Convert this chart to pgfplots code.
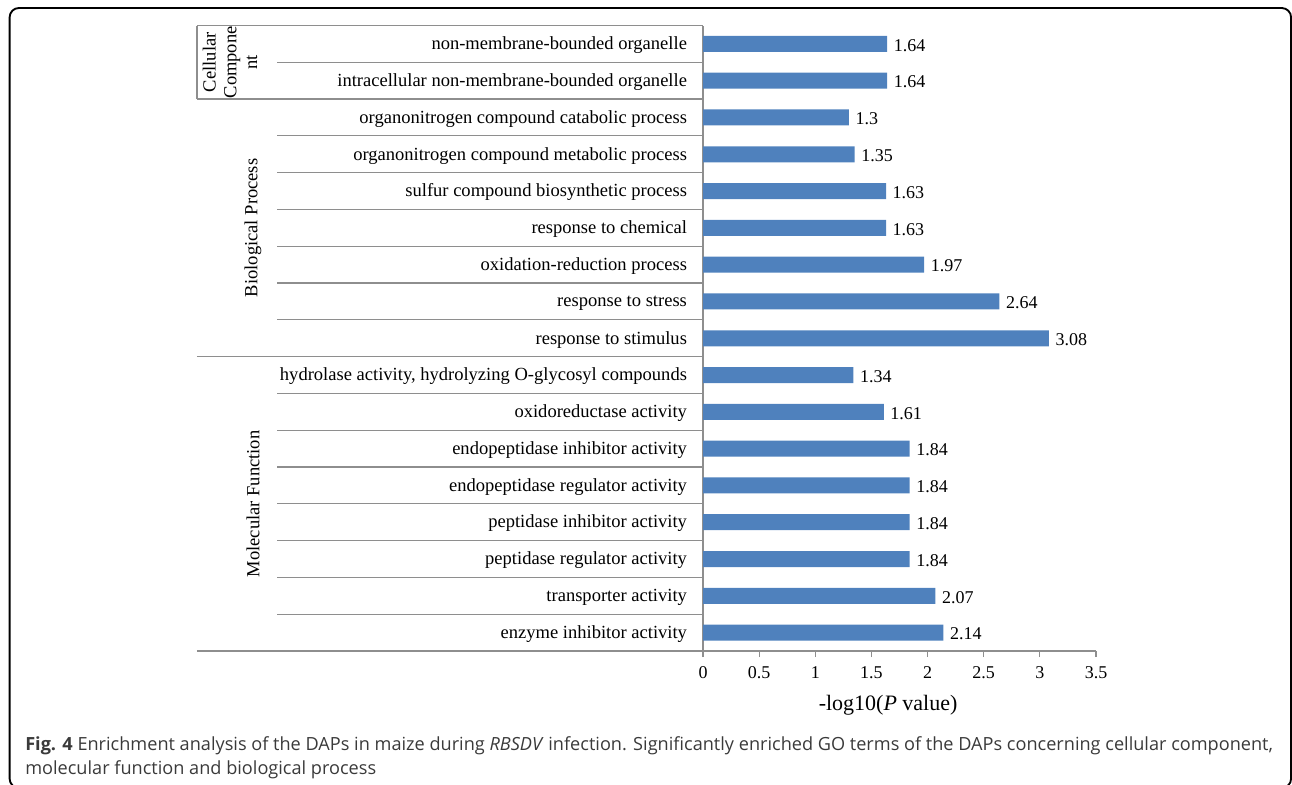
\documentclass[border=0pt]{standalone}
\usepackage{pgfplots}
\pgfplotsset{compat=1.18}
\usepackage{fontspec}
\setmainfont{Liberation Serif}
\newfontfamily\capfont{Open Sans}
\definecolor{barblue}{HTML}{4F81BD}
\definecolor{linegray}{HTML}{8E8E8E}
\definecolor{captext}{HTML}{3A3A3A}
\newcommand\lblfont{\fontsize{13.9}{15.5}\selectfont}
\newcommand\valfont{\fontsize{13.5}{15}\selectfont}
\begin{document}
\begin{tikzpicture}
\useasboundingbox (0,0) rectangle (969pt,-588.75pt);
% outer frame
\draw[line width=1.4pt, rounded corners=7pt] (7.2pt,-6pt) rectangle (968.3pt,-591pt);
\begin{axis}[
  at={(527.25pt,-488.25pt)}, anchor=south west,
  scale only axis, width=294.75pt, height=469.125pt,
  xmin=0, xmax=3.5, ymin=-0.5, ymax=16.5,
  xbar, bar width=12pt, bar shift=0pt,
  axis x line*=bottom, axis y line*=left,
  axis line style={linegray, line width=0.9pt},
  xtick={0,0.5,1,1.5,2,2.5,3,3.5},
  xticklabels={0,0.5,1,1.5,2,2.5,3,3.5},
  x tick style={linegray, line width=0.9pt},
  tick align=outside, major tick length=4.5pt,
  xticklabel style={font=\valfont, yshift=-3.5pt},
  ytick={0,...,16},
  yticklabels={enzyme inhibitor activity, transporter activity,
    peptidase regulator activity, peptidase inhibitor activity,
    endopeptidase regulator activity, endopeptidase inhibitor activity,
    oxidoreductase activity,
    {hydrolase activity, hydrolyzing O-glycosyl compounds},
    response to stimulus, response to stress, oxidation-reduction process,
    response to chemical, sulfur compound biosynthetic process,
    organonitrogen compound metabolic process,
    organonitrogen compound catabolic process,
    intracellular non-membrane-bounded organelle,
    non-membrane-bounded organelle},
  y tick style={draw=none},
  yticklabel style={font=\lblfont, anchor=east, xshift=-4pt, yshift=-1pt},
  xlabel={-log10(\textit{P} value)},
  xlabel style={font=\fontsize{16.5}{18}\selectfont, at={(axis description cs:0.471,0)}, anchor=center, yshift=-40.5pt},
  nodes near coords,
  point meta=explicit symbolic,
  nodes near coords style={font=\valfont, anchor=west, xshift=1.5pt, yshift=-1pt},
  clip=false,
]
\addplot[fill=barblue, draw=none] coordinates {
  (2.14,0) [2.14]
  (2.07,1) [2.07]
  (1.84,2) [1.84]
  (1.84,3) [1.84]
  (1.84,4) [1.84]
  (1.84,5) [1.84]
  (1.61,6) [1.61]
  (1.34,7) [1.34]
  (3.08,8) [3.08]
  (2.64,9) [2.64]
  (1.97,10) [1.97]
  (1.63,11) [1.63]
  (1.63,12) [1.63]
  (1.35,13) [1.35]
  (1.30,14) [1.3]
  (1.64,15) [1.64]
  (1.64,16) [1.64]
};
% group boundaries
\draw[linegray, line width=0.9pt]
  (axis cs:-4.5064,16.5) -- (axis cs:0,16.5)
  (axis cs:-4.5064,14.5) -- (axis cs:0,14.5)
  (axis cs:-4.5064,7.5) -- (axis cs:0,7.5)
  (axis cs:-4.5064,-0.5) -- (axis cs:0,-0.5)
  (axis cs:-4.5064,16.5) -- (axis cs:-4.5064,14.5);
% row separators within groups
\draw[linegray, line width=0.9pt]
  (axis cs:-3.7939,15.5) -- (axis cs:0,15.5)
  (axis cs:-3.7939,13.5) -- (axis cs:0,13.5)
  (axis cs:-3.7939,12.5) -- (axis cs:0,12.5)
  (axis cs:-3.7939,11.5) -- (axis cs:0,11.5)
  (axis cs:-3.7939,10.5) -- (axis cs:0,10.5)
  (axis cs:-3.7939,9.5) -- (axis cs:0,9.5)
  (axis cs:-3.7939,8.5) -- (axis cs:0,8.5)
  (axis cs:-3.7939,6.5) -- (axis cs:0,6.5)
  (axis cs:-3.7939,5.5) -- (axis cs:0,5.5)
  (axis cs:-3.7939,4.5) -- (axis cs:0,4.5)
  (axis cs:-3.7939,3.5) -- (axis cs:0,3.5)
  (axis cs:-3.7939,2.5) -- (axis cs:0,2.5)
  (axis cs:-3.7939,1.5) -- (axis cs:0,1.5)
  (axis cs:-3.7939,0.5) -- (axis cs:0,0.5);
% group names
\node[rotate=90, align=center, font=\lblfont, inner sep=0pt] at (axis cs:-4.2125,15.5)
  {Cellular\\Compone\\nt};
\node[rotate=90, font=\lblfont] at (axis cs:-4.0076,11) {Biological Process};
\node[rotate=90, font=\lblfont] at (axis cs:-4.0076,3.5) {Molecular Function};
\end{axis}
\node[anchor=north west, align=left, inner sep=0pt, text=captext,
  font=\capfont\fontsize{13.6}{18}\selectfont] at (18.75pt,-552pt)
  {\textbf{Fig. 4} Enrichment analysis of the DAPs in maize during \textit{RBSDV} infection. Significantly enriched GO terms of the DAPs concerning cellular component,\\
   molecular function and biological process};
\end{tikzpicture}
\end{document}
